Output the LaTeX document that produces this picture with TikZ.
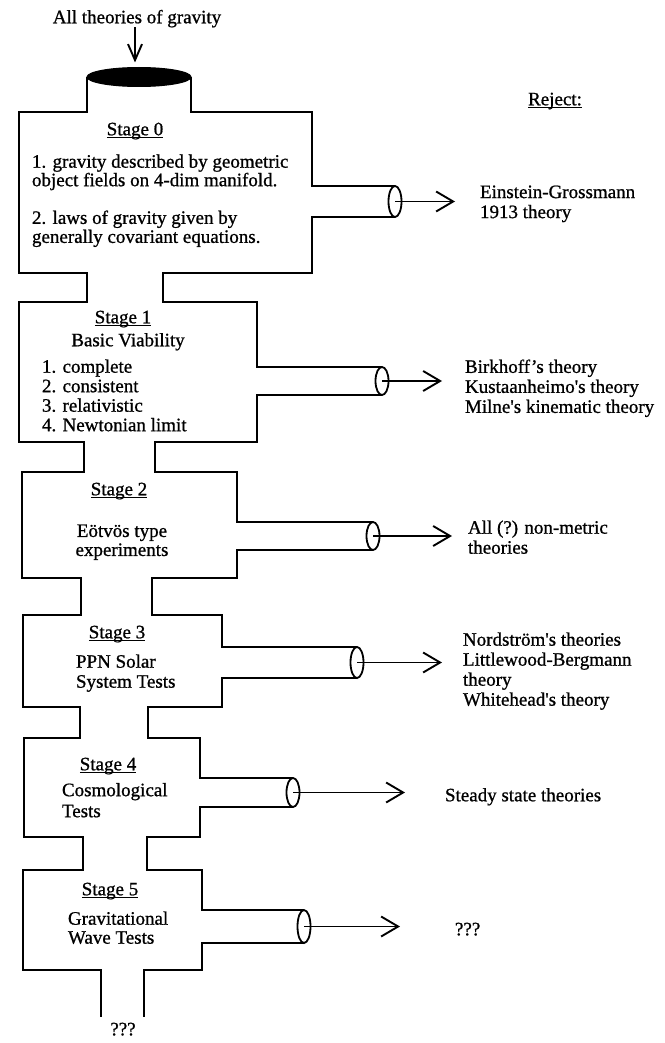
\documentclass[tikz,border=0pt]{standalone}
\usepackage{fontspec}
\setmainfont[FakeBold=0.9,BoldFont={Liberation Serif}]{Liberation Serif}
\usetikzlibrary{arrows.meta,shapes.geometric}
\begin{document}
\begin{tikzpicture}[x=1pt,y=-1pt,
  wall/.style={line width=2pt, line join=miter},
  pipeend/.style={draw, ellipse, line width=1.8pt, minimum width=13pt, inner sep=0pt, outer sep=0pt},
  flow/.style={line width=1.6pt, -{Straight Barb[length=17pt,width=20pt,line width=1.9pt]}},
  flowdown/.style={line width=1.6pt, -{Straight Barb[length=16pt,width=14pt,line width=1.9pt]}},
  txt/.style={font=\fontsize{19}{20}\selectfont\bfseries, inner sep=0pt, outer sep=0pt},
  head/.style={txt, anchor=mid},
  ulin/.style={line width=1.3pt},
]
\useasboundingbox (0,0) rectangle (664,1043);

% entry
\node[txt, anchor=mid] (title) at (137,21) {All theories of gravity};
\node[ellipse, fill=black, draw=black, line width=1pt, minimum width=104pt, minimum height=19pt, inner sep=0pt, outer sep=0pt] (mouth) at (139,77) {};
\draw[flowdown] ([xshift=-2pt]title.south) -- ([xshift=-2pt,yshift=5pt]title.south |- mouth.north);

% pipe ends
\node[pipeend, minimum height=31pt] (e0) at (395,201.5) {};
\node[pipeend, minimum height=28pt] (e1) at (382,381) {};
\node[pipeend, minimum height=28pt] (e2) at (373,536) {};
\node[pipeend, minimum height=31pt] (e3) at (357,662.5) {};
\node[pipeend, minimum height=29pt] (e4) at (293,792.5) {};
\node[pipeend, minimum height=33pt] (e5) at (304,926.5) {};

% left wall
\draw[wall] (mouth.west) -- (87,112) -- (19,112) -- (19,273) -- (87,273) -- (87,302)
  -- (19,302) -- (19,442) -- (84,442) -- (84,472) -- (22,472) -- (22,578) -- (81,578)
  -- (81,615) -- (23,615) -- (23,707) -- (80,707) -- (80,738) -- (24,738) -- (24,837)
  -- (83,837) -- (83,870) -- (23,870) -- (23,970) -- (101,970) -- (101,1017);

% right wall with side pipes
\draw[wall] (mouth.east) -- (191,112) -- (312,112) -- (312,186) -- (e0.north);
\draw[wall] (e0.south) -- (312,217) -- (312,273) -- (163,273) -- (163,302) -- (257,302) -- (257,367) -- (e1.north);
\draw[wall] (e1.south) -- (257,395) -- (257,442) -- (155,442) -- (155,472) -- (237,472) -- (237,522) -- (e2.north);
\draw[wall] (e2.south) -- (237,550) -- (237,578) -- (152,578) -- (152,615) -- (222,615) -- (222,647) -- (e3.north);
\draw[wall] (e3.south) -- (222,678) -- (222,707) -- (148,707) -- (148,738) -- (200,738) -- (200,778) -- (e4.north);
\draw[wall] (e4.south) -- (200,807) -- (200,837) -- (147,837) -- (147,870) -- (202,870) -- (202,910) -- (e5.north);
\draw[wall] (e5.south) -- (202,943) -- (202,970) -- (144,970) -- (144,1017);

% reject arrows
\coordinate (t0) at (455,201.5);
\coordinate (t1) at (442,381);
\coordinate (t2) at (452,536);
\coordinate (t3) at (442,662.5);
\coordinate (t4) at (405,792.5);
\coordinate (t5) at (400,926.5);
\draw[flow] (e0.center) -- (t0);
\draw[flow] (e1.center) -- (t1);
\draw[flow] (e2.center) -- (t2);
\draw[flow] (e3.center) -- (t3);
\draw[flow] (e4.center) -- (t4);
\draw[flow] (e5.center) -- (t5);

% headings
\node[head] (reject) at (555,103) {Reject:};
\node[head] (h0) at (135,133) {Stage 0};
\node[head] (h1) at (123,321) {Stage 1};
\node[head] (h2) at (119,493) {Stage 2};
\node[head] (h3) at (117,636) {Stage 3};
\node[head] (h4) at (108,768) {Stage 4};
\node[head] (h5) at (110,893) {Stage 5};
\foreach \h in {reject,h0,h1,h2,h3,h4,h5}
  \draw[ulin] ([yshift=-2.5pt]\h.base west) -- ([yshift=-2.5pt]\h.base east);

% stage contents
\node[txt, anchor=north west, align=left, font=\fontsize{19}{18.5}\selectfont\bfseries] (s0a) at (32,154.5)
  {1. gravity described by geometric\\object fields on 4-dim manifold.};
\node[txt, anchor=north west, align=left, font=\fontsize{19}{19}\selectfont\bfseries] (s0b) at (32,210.5)
  {2. laws of gravity given by\\generally covariant equations.};
\node[head] (b1) at (128,344) {Basic Viability};
\node[txt, anchor=north west, align=left, font=\fontsize{19}{19.5}\selectfont\bfseries] (s1) at (42,359.5)
  {1. complete\\2. consistent\\3. relativistic\\4. Newtonian limit};
\node[txt, anchor=north, align=center, font=\fontsize{19}{19}\selectfont\bfseries] (s2) at (122,524.5)
  {Eötvös type\\experiments};
\node[txt, anchor=north west, align=left] (s3) at (76,654.5) {PPN Solar\\System Tests};
\node[txt, anchor=north west, align=left, font=\fontsize{19}{21}\selectfont\bfseries] (s4) at (62,783) {Cosmological\\Tests};
\node[txt, anchor=north west, align=left, font=\fontsize{19}{19}\selectfont\bfseries] (s5) at (68,911.5) {Gravitational\\Wave Tests};

% rejected theories
\node[txt, anchor=north west, align=left] (r0) at (480,185.5) {Einstein-Grossmann\\1913 theory};
\node[txt, anchor=north west, align=left] (r1) at (465,359.5)
  {Birkhoff's theory\\Kustaanheimo\textquotesingle s theory\\Milne\textquotesingle s kinematic theory};
\node[txt, anchor=north west, align=left] (r2) at (468,520.5) {All (?) non-metric\\theories};
\node[txt, anchor=north west, align=left] (r3) at (463,632.5)
  {Nordström\textquotesingle s theories\\Littlewood-Bergmann\\theory\\Whitehead\textquotesingle s theory};
\node[txt, anchor=mid west] (r4) at (445,799) {Steady state theories};
\node[txt, anchor=mid west] (r5) at (455,933) {???};
\node[head] (out) at (123,1033) {???};
\end{tikzpicture}
\end{document}
